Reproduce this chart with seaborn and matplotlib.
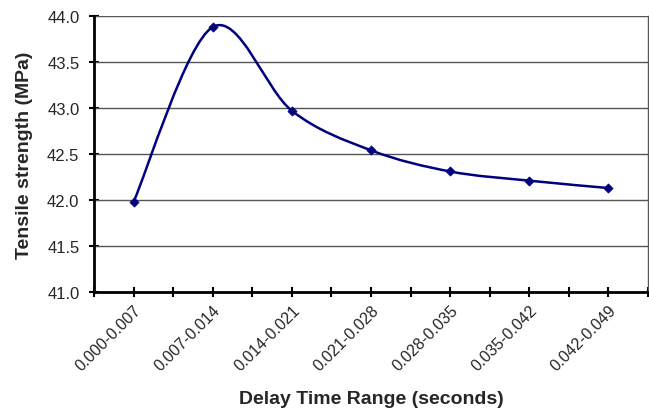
import matplotlib
matplotlib.use("Agg")
import matplotlib.pyplot as plt
import seaborn as sns
import numpy as np
import pandas as pd
from matplotlib.path import Path
from matplotlib.patches import PathPatch
import matplotlib.transforms as mtransforms

categories = ["0.000-0.007", "0.007-0.014", "0.014-0.021", "0.021-0.028",
              "0.028-0.035", "0.035-0.042", "0.042-0.049"]
strength = [41.98, 43.88, 42.97, 42.54, 42.31, 42.21, 42.13]
y_ticks = [41.0, 41.5, 42.0, 42.5, 43.0, 43.5, 44.0]

sns.set_theme(style="white")
plt.rcParams["font.family"] = ["Liberation Sans", "DejaVu Sans"]

df = pd.DataFrame({"pos": np.arange(len(categories)), "val": strength})

fig = plt.figure(figsize=(6.49, 4.10), dpi=100)
ax = fig.add_axes([94/649, (410-293)/410, (648-94)/649, (293-17)/410])

color = "#000080"

# Excel-style smoothed line (Catmull-Rom bezier through data points)
x = df["pos"].to_numpy(dtype=float)
y = df["val"].to_numpy(dtype=float)
verts = [(x[0], y[0])]
codes = [Path.MOVETO]
n = len(x)
for i in range(n - 1):
    p0 = (x[max(i-1, 0)], y[max(i-1, 0)])
    p1 = (x[i], y[i])
    p2 = (x[i+1], y[i+1])
    p3 = (x[min(i+2, n-1)], y[min(i+2, n-1)])
    c1 = (p1[0] + (p2[0]-p0[0])/6, p1[1] + (p2[1]-p0[1])/6)
    c2 = (p2[0] - (p3[0]-p1[0])/6, p2[1] - (p3[1]-p1[1])/6)
    verts += [c1, c2, p2]
    codes += [Path.CURVE4]*3
ax.add_patch(PathPatch(Path(verts, codes), facecolor="none", edgecolor=color,
                       lw=1.8, zorder=3))

sns.scatterplot(data=df, x="pos", y="val", marker="D", s=22, color=color,
                edgecolor=color, linewidth=0.5, ax=ax, zorder=4, legend=False)

ax.set_xlim(-0.5, 6.5)
ax.set_ylim(41.0, 44.0)
ax.set_yticks(y_ticks)
ax.set_yticklabels([f"{v:.1f}" for v in y_ticks], fontsize=12)
ax.set_xticks(range(len(categories)))
ax.set_xticks(np.arange(-0.5, 7.0, 1.0), minor=True)
ax.set_xticklabels(categories, rotation=45, ha="right", va="top",
                   rotation_mode="anchor", fontsize=11.5)
offset = mtransforms.ScaledTranslation(5/100, -1/100, fig.dpi_scale_trans)
for lab in ax.get_xticklabels():
    lab.set_transform(lab.get_transform() + offset)

ax.tick_params(axis="both", which="both", direction="inout", length=7,
               width=1.5, color="black", bottom=True, left=True)
ax.tick_params(axis="y", pad=7)
ax.tick_params(axis="x", pad=4)

for yv in y_ticks:
    ax.axhline(yv, color="#555555", lw=1.0, zorder=1)

ax.spines["left"].set_color("black")
ax.spines["left"].set_linewidth(2)
ax.spines["bottom"].set_color("black")
ax.spines["bottom"].set_linewidth(2)
ax.spines["right"].set_color("#555555")
ax.spines["right"].set_linewidth(1)
ax.spines["top"].set_visible(False)

ax.set_xlabel("Delay Time Range (seconds)", fontsize=14, fontweight="bold")
ax.set_ylabel("Tensile strength (MPa)", fontsize=14, fontweight="bold")
ax.xaxis.set_label_coords(0.5, -(399-293)/276, transform=ax.transAxes)
ax.xaxis.label.set_va("center")
ax.yaxis.set_label_coords(-(94-25)/554, 0.5, transform=ax.transAxes)
ax.yaxis.label.set_va("center")

fig.savefig("out.png", dpi=100)
